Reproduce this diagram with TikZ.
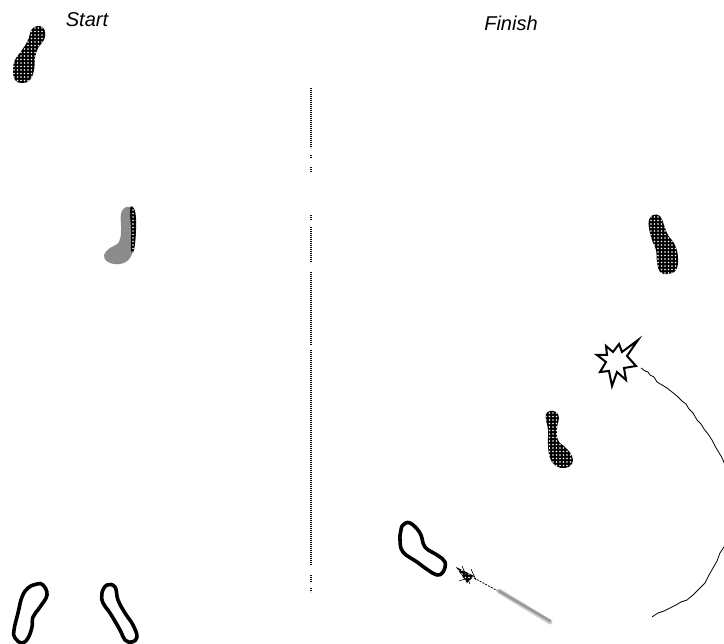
\documentclass[tikz,border=0pt]{standalone}
\usepackage{fontspec}
\setmainfont{Liberation Sans}
\usetikzlibrary{patterns.meta}

\tikzset{
  hatched/.style={fill=black, postaction={pattern={Dots[distance=3.5pt, radius=0.8pt]}, pattern color=white}},
  outlinefoot/.style={draw=black, line width=3.6pt, line join=round},
  label/.style={font=\itshape\fontsize{20}{22}\selectfont, inner sep=0pt, anchor=base},
  divider/.style={draw=black, line width=1.1pt, dash pattern=on 0.9pt off 1.1pt},
  pathline/.style={draw=black, line width=0.8pt, line join=round}
}

\begin{document}
\begin{tikzpicture}[x=1pt,y=-1pt]
\useasboundingbox (0,0) rectangle (724,644);
\clip (0,0) rectangle (724,644);

% headings
\node[label] (start) at (87,27) {Start};
\node[label] (finish) at (511,31) {Finish};

% centre divider, dotted with small breaks
\foreach \a/\b in {88/148, 155/158, 167/172, 215/220, 227/262, 272/345, 350/565, 575/582, 588/592}
  \draw[divider] (311,\a) -- (311,\b);

% footprint, start position (upper left)
\path[hatched] plot[smooth cycle, tension=0.7] coordinates {
  (40,26) (45,31) (44,40) (38,48) (35,58) (34,70) (30,80) (22,83)
  (15,80) (13,70) (15,60) (22,50) (28,40) (32,29)};

% grey footprint with hatched edge
\path[fill=black!45] plot[smooth cycle, tension=0.7] coordinates {
  (126,207) (132,210) (134,225) (133,245) (130,258) (120,264)
  (108,262) (104,255) (110,248) (119,242) (121,230) (121,214)};
\path[hatched] plot[smooth cycle, tension=0.7] coordinates {
  (130,208) (135,211) (136,230) (134,250) (131,250) (131,230)};

% outlined footprints at the bottom left
\draw[outlinefoot] plot[smooth cycle, tension=0.7] coordinates {
  (43,585) (47,595) (40,607) (33,617) (32,627) (28,638) (22,643)
  (15,638) (14,630) (18,613) (22,597) (28,588) (37,584)};
\draw[outlinefoot] plot[smooth cycle, tension=0.7] coordinates {
  (107,585) (115,587) (118,600) (125,613) (133,625) (137,637) (132,642)
  (125,640) (120,630) (110,613) (103,603) (102,593)};

% footprints on the finish side
\path[hatched] plot[smooth cycle, tension=0.7] coordinates {
  (653,215) (660,216) (664,225) (668,235) (675,245) (678,258) (676,270)
  (668,274) (660,272) (657,262) (656,250) (652,240) (649,228) (649,220)};
\path[hatched] plot[smooth cycle, tension=0.7] coordinates {
  (550,411) (556,412) (559,418) (557,428) (558,440) (566,448) (572,456)
  (572,464) (565,468) (556,466) (550,458) (548,445) (548,430) (546,420) (546,414)};

% outlined footprint, lower right
\draw[outlinefoot] plot[smooth cycle, tension=0.7] coordinates {
  (403,525) (410,523) (420,533) (425,547) (437,555) (445,562) (443,572)
  (437,575) (428,570) (417,562) (403,552) (400,540) (401,530)};

% sliding trail leaving that footprint
\path[hatched] (456,567) -- (474,576) -- (467,583) -- cycle;
\draw[line width=0.6pt] (462,566) -- (470,584) (471,569) -- (476,580) (465,579) -- (459,581);
\draw[line width=0.8pt, dash pattern=on 2pt off 1.2pt] (474,578) -- (498,591);
\draw[line width=5pt, draw=black!18, line cap=round] (499,591) -- (550,622);
\draw[line width=2.6pt, draw=black!40, line cap=round] (499,591) -- (550,621);

% burst where the contact happens
\draw[line width=2pt, line join=miter, fill=white] (638,340) -- (627,356) -- (636,366) -- (624,368)
  -- (626,380) -- (617,372) -- (612,386) -- (609,371) -- (600,372) -- (606,362)
  -- (597,355) -- (607,355) -- (606,346) -- (613,352) -- (619,344) -- (622,352) -- cycle;

% swinging path around the right edge (slightly shaky, drawn by hand)
\draw[pathline] (641,368) -- (645,371) -- (648,372) -- (650,375) -- (654,377) -- (657,382)
  -- (662,385) -- (667,388) -- (672,392) -- (677,396) -- (682,401) -- (686,404)
  -- (689,409) -- (693,413) -- (697,420) -- (701,424) -- (704,429) -- (708,434)
  -- (712,440) -- (715,446) -- (718,451) -- (721,456) -- (723,460) -- (726,468);
\draw[pathline] (726,538) -- (724,547) -- (720,553) -- (717,561) -- (713,568)
  -- (709,575) -- (705,583) -- (699,589) -- (693,595) -- (687,600) -- (681,602)
  -- (676,605) -- (670,608) -- (664,611) -- (658,613) -- (652,617);
\end{tikzpicture}
\end{document}
